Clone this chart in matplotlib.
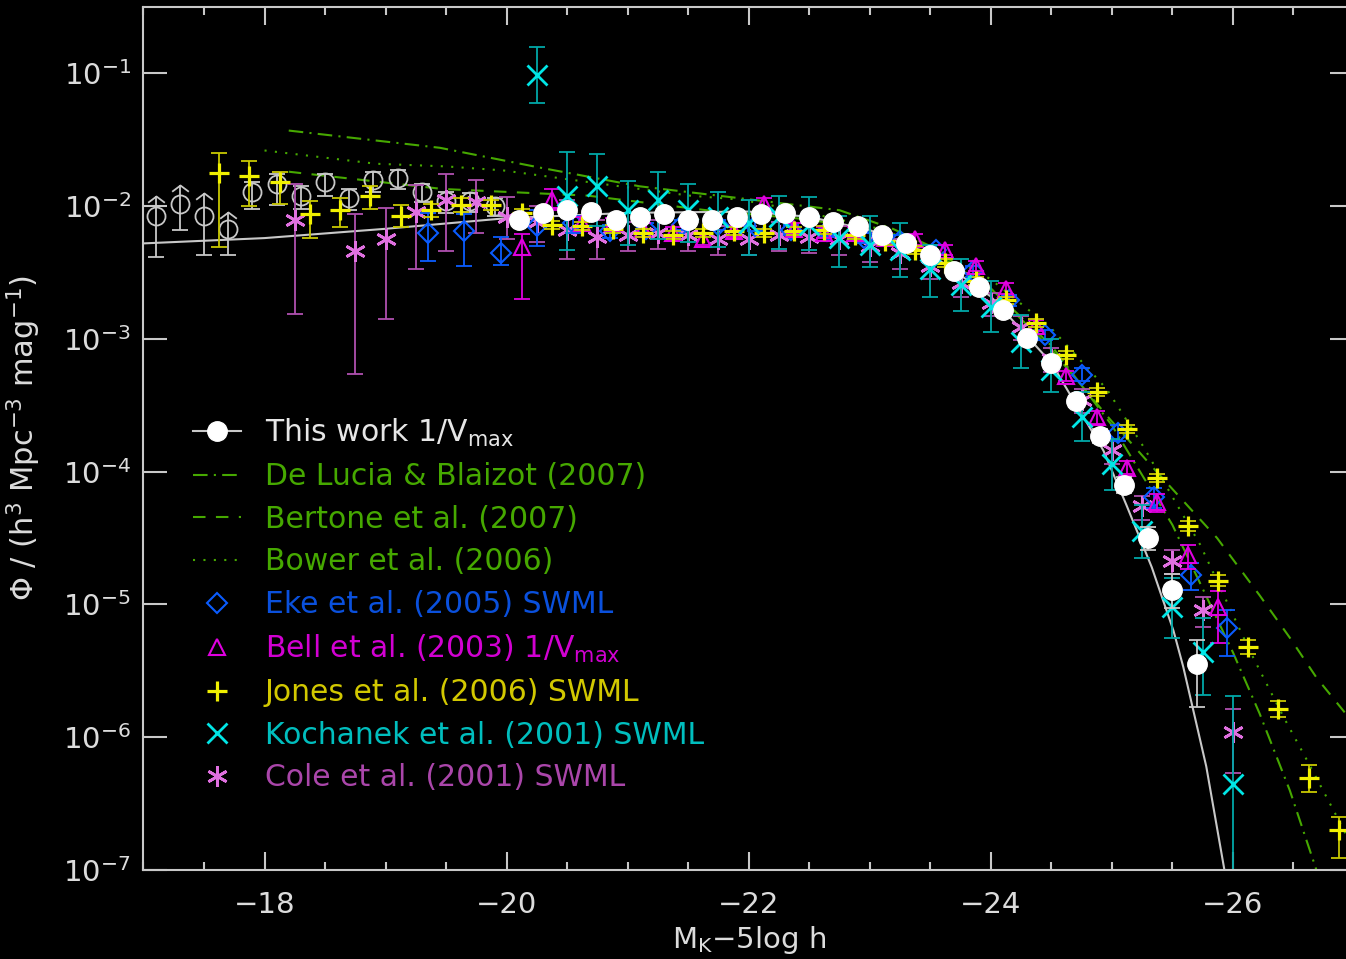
import numpy as np
import matplotlib
matplotlib.use('Agg')
import matplotlib.pyplot as plt
from matplotlib.lines import Line2D
from matplotlib.ticker import MultipleLocator, FixedLocator, NullLocator

plt.rcParams['font.family'] = ['DejaVu Sans']
plt.rcParams['mathtext.default'] = 'regular'

# ---- data (magnitudes and log10 phi) ----
# this work, 1/Vmax (filled)
this_M = [-20.1, -20.3, -20.5, -20.7, -20.9, -21.1, -21.3, -21.5, -21.7, -21.9,
          -22.1, -22.3, -22.5, -22.7, -22.9, -23.1, -23.3, -23.5, -23.7, -23.9,
          -24.1, -24.3, -24.5, -24.7, -24.9, -25.1, -25.3, -25.5, -25.7]
this_log = [-2.10, -2.05, -2.03, -2.04, -2.10, -2.08, -2.06, -2.10, -2.10, -2.08,
            -2.06, -2.05, -2.08, -2.12, -2.15, -2.22, -2.28, -2.37, -2.49, -2.61,
            -2.78, -2.99, -3.18, -3.47, -3.73, -4.10, -4.50, -4.89, -5.45]
this_up = [0.02, 0.02, 0.02, 0.02, 0.02, 0.02, 0.02, 0.02, 0.02, 0.02,
           0.02, 0.02, 0.02, 0.02, 0.02, 0.02, 0.02, 0.02, 0.02, 0.02,
           0.03, 0.03, 0.04, 0.04, 0.05, 0.06, 0.08, 0.12, 0.18]
this_dn = [0.02, 0.02, 0.02, 0.02, 0.02, 0.02, 0.02, 0.02, 0.02, 0.02,
           0.02, 0.02, 0.02, 0.02, 0.02, 0.02, 0.02, 0.02, 0.02, 0.02,
           0.03, 0.03, 0.04, 0.04, 0.05, 0.06, 0.09, 0.14, 0.32]

# this work, faint end (open circles)
faint_M = [-17.1, -17.3, -17.5, -17.7, -17.9, -18.1, -18.3, -18.5, -18.7, -18.9,
           -19.1, -19.3, -19.5, -19.7, -19.9]
faint_log = [-2.07, -1.98, -2.07, -2.17, -1.89, -1.83, -1.92, -1.82, -1.94, -1.80,
             -1.79, -1.89, -1.96, -1.96, -2.00]
faint_hi = [-1.92, -1.84, -1.90, -2.04, -1.82, -1.76, -1.85, -1.76, -1.87, -1.74,
            -1.73, -1.83, -1.89, -1.90, -1.94]
faint_lo = [-2.38, -2.18, -2.37, -2.37, -2.02, -1.99, -2.02, -1.92, -2.03, -1.89,
            -1.87, -1.97, -2.05, -2.04, -2.07]
faint_arrow = [True, True, True, True, False, False, False, False, False, False,
               False, False, False, False, False]

# Jones et al. (2006) SWML
jones_M = [-17.625, -17.875, -18.125, -18.375, -18.625, -18.875, -19.125, -19.375,
           -19.625, -19.875, -20.125, -20.375, -20.625, -20.875, -21.125, -21.375,
           -21.625, -21.875, -22.125, -22.375, -22.625, -22.875, -23.125, -23.375,
           -23.625, -23.875, -24.125, -24.375, -24.625, -24.875, -25.125, -25.375,
           -25.625, -25.875, -26.125, -26.375, -26.625, -26.875]
jones_log = [-1.75, -1.77, -1.82, -2.06, -2.03, -1.92, -2.07, -2.03, -1.99, -1.99,
             -2.05, -2.14, -2.15, -2.17, -2.20, -2.22, -2.20, -2.19, -2.20, -2.19,
             -2.18, -2.22, -2.26, -2.33, -2.43, -2.56, -2.71, -2.88, -3.12, -3.40,
             -3.68, -4.05, -4.41, -4.82, -5.32, -5.79, -6.31, -6.70]
jones_up = [0.15, 0.11, 0.08, 0.10, 0.09, 0.07, 0.08, 0.05, 0.05, 0.04,
            0.03, 0.03, 0.03, 0.03, 0.03, 0.03, 0.03, 0.03, 0.03, 0.03,
            0.03, 0.03, 0.03, 0.03, 0.03, 0.03, 0.03, 0.03, 0.03, 0.03,
            0.03, 0.03, 0.04, 0.04, 0.05, 0.06, 0.10, 0.10]
jones_dn = [0.56, 0.23, 0.16, 0.18, 0.13, 0.10, 0.09, 0.05, 0.05, 0.04,
            0.03, 0.03, 0.03, 0.03, 0.03, 0.03, 0.03, 0.03, 0.03, 0.03,
            0.03, 0.03, 0.03, 0.03, 0.03, 0.03, 0.03, 0.03, 0.03, 0.03,
            0.03, 0.03, 0.04, 0.04, 0.05, 0.06, 0.10, 0.21]

# Kochanek et al. (2001) SWML
koch_M = [-20.25, -20.5, -20.75, -21.0, -21.25, -21.5, -21.75, -22.0, -22.25, -22.5,
          -22.75, -23.0, -23.25, -23.5, -23.75, -24.0, -24.25, -24.5, -24.75, -25.0,
          -25.25, -25.5, -25.75, -26.0]
koch_log = [-1.01, -1.92, -1.85, -2.03, -1.95, -2.03, -2.08, -2.13, -2.08, -2.14,
            -2.24, -2.29, -2.33, -2.47, -2.59, -2.76, -3.02, -3.23, -3.59, -3.94,
            -4.45, -5.02, -5.36, -6.35]
koch_hi = [-0.80, -1.59, -1.61, -1.81, -1.74, -1.83, -1.89, -1.95, -1.92, -1.93,
           -2.07, -2.07, -2.13, -2.29, -2.40, -2.56, -2.82, -3.00, -3.40, -3.75,
           -4.25, -4.80, -5.10, -5.69]
koch_lo = [-1.22, -2.33, -2.15, -2.29, -2.25, -2.27, -2.31, -2.37, -2.32, -2.33,
           -2.46, -2.46, -2.53, -2.68, -2.79, -2.95, -3.22, -3.40, -3.77, -4.14,
           -4.65, -5.25, -5.68, -9.00]

# Eke et al. (2005) SWML
eke_M = [-19.35, -19.65, -19.95, -20.25, -20.55, -20.85, -21.15, -21.45, -21.75,
         -22.05, -22.35, -22.65, -22.95, -23.25, -23.55, -23.85, -24.15, -24.45,
         -24.75, -25.05, -25.35, -25.65, -25.95]
eke_log = [-2.20, -2.19, -2.35, -2.15, -2.13, -2.19, -2.17, -2.14, -2.14, -2.15,
           -2.18, -2.19, -2.24, -2.26, -2.33, -2.49, -2.71, -2.97, -3.27, -3.71,
           -4.19, -4.78, -5.18]
eke_up = [0.15, 0.13, 0.12, 0.12, 0.06, 0.05, 0.04, 0.04, 0.04, 0.04, 0.04, 0.04,
          0.04, 0.04, 0.04, 0.04, 0.04, 0.04, 0.05, 0.06, 0.07, 0.09, 0.14]
eke_dn = [0.21, 0.26, 0.09, 0.15, 0.07, 0.05, 0.04, 0.04, 0.04, 0.04, 0.04, 0.04,
          0.04, 0.04, 0.04, 0.04, 0.04, 0.04, 0.05, 0.06, 0.08, 0.11, 0.21]

# Bell et al. (2003) 1/Vmax
bell_M = [-20.125, -20.375, -20.625, -20.875, -21.125, -21.375, -21.625, -21.875,
          -22.125, -22.375, -22.625, -22.875, -23.125, -23.375, -23.625, -23.875,
          -24.125, -24.375, -24.625, -24.875, -25.125, -25.375, -25.625, -25.875]
bell_log = [-2.31, -1.95, -2.13, -2.13, -2.17, -2.20, -2.25, -2.19, -1.98, -2.17,
            -2.20, -2.20, -2.24, -2.25, -2.33, -2.45, -2.62, -2.90, -3.28, -3.59,
            -3.97, -4.23, -4.63, -5.02]
bell_up = [0.10, 0.08, 0.05, 0.04, 0.04, 0.04, 0.04, 0.04, 0.04, 0.04, 0.04, 0.04,
           0.04, 0.04, 0.04, 0.04, 0.04, 0.04, 0.04, 0.05, 0.05, 0.06, 0.08, 0.12]
bell_dn = [0.39, 0.08, 0.05, 0.04, 0.04, 0.04, 0.04, 0.04, 0.04, 0.04, 0.04, 0.04,
           0.04, 0.04, 0.04, 0.04, 0.04, 0.04, 0.04, 0.05, 0.05, 0.07, 0.10, 0.27]

# Cole et al. (2001) SWML
cole_M = [-18.25, -18.75, -19.0, -19.25, -19.5, -19.75, -20.0, -20.25, -20.5, -20.75,
          -21.0, -21.25, -21.5, -21.75, -22.0, -22.25, -22.5, -22.75, -23.0, -23.25,
          -23.5, -23.75, -24.0, -24.25, -24.5, -24.75, -25.0, -25.25, -25.5, -25.75,
          -26.0]
cole_log = [-2.10, -2.34, -2.25, -2.04, -1.95, -1.97, -2.08, -2.12, -2.18, -2.23,
            -2.22, -2.20, -2.22, -2.25, -2.25, -2.22, -2.23, -2.25, -2.30, -2.35,
            -2.45, -2.58, -2.73, -2.91, -3.15, -3.46, -3.84, -4.26, -4.67, -5.04,
            -5.96]
cole_up = [0.27, 0.28, 0.24, 0.20, 0.19, 0.17, 0.15, 0.12, 0.23, 0.13, 0.10, 0.10,
           0.10, 0.10, 0.10, 0.10, 0.10, 0.10, 0.10, 0.10, 0.08, 0.08, 0.08, 0.08,
           0.08, 0.08, 0.08, 0.08, 0.08, 0.10, 0.17]
cole_dn = [0.71, 0.92, 0.60, 0.43, 0.39, 0.23, 0.17, 0.15, 0.22, 0.17, 0.12, 0.12,
           0.12, 0.12, 0.12, 0.12, 0.12, 0.12, 0.12, 0.12, 0.10, 0.10, 0.10, 0.10,
           0.10, 0.10, 0.10, 0.10, 0.10, 0.13, 0.31]

# model / fit curves
fit_M = [-17.0, -18.0, -19.0, -20.0, -21.0, -22.0, -22.5, -23.0, -23.5, -24.0,
         -24.5, -24.93, -25.12, -25.33, -25.51, -25.59, -25.78, -25.93, -26.0]
fit_log = [-2.28, -2.24, -2.17, -2.09, -2.05, -2.04, -2.08, -2.18, -2.36, -2.68,
           -3.18, -3.84, -4.25, -4.72, -5.20, -5.47, -6.22, -7.00, -7.35]

delucia_M = [-18.2, -19.45, -20.28, -21.1, -21.93, -22.75, -23.19, -23.5, -24.0,
             -24.5, -25.0, -25.5, -26.0, -26.22, -26.47, -26.69, -26.8]
delucia_log = [-1.43, -1.56, -1.71, -1.85, -1.94, -2.03, -2.17, -2.30, -2.62,
               -3.05, -3.65, -4.40, -5.36, -5.82, -6.40, -7.00, -7.30]

bertone_M = [-18.2, -19.47, -20.67, -21.65, -22.5, -23.0, -23.5, -24.0, -24.5,
             -24.98, -25.39, -25.87, -26.22, -26.47, -26.69, -26.93, -27.0]
bertone_log = [-1.74, -1.87, -1.92, -2.03, -2.10, -2.18, -2.33, -2.62, -3.08,
               -3.60, -4.02, -4.50, -4.93, -5.25, -5.55, -5.82, -5.90]

bower_M = [-18.0, -18.92, -19.5, -19.97, -20.69, -21.51, -21.93, -22.34, -23.0,
           -23.5, -24.0, -24.5, -24.96, -25.26, -25.73, -26.14, -26.42, -26.64,
           -26.86, -27.0]
bower_log = [-1.58, -1.68, -1.70, -1.73, -1.82, -1.92, -1.95, -2.02, -2.15,
             -2.30, -2.55, -2.92, -3.38, -3.81, -4.55, -5.35, -5.85, -6.22,
             -6.60, -6.85]

labels = ['This work 1/V$_{max}$', 'De Lucia & Blaizot (2007)', 'Bertone et al. (2007)',
          'Bower et al. (2006)', 'Eke et al. (2005) SWML', 'Bell et al. (2003) 1/V$_{max}$',
          'Jones et al. (2006) SWML', 'Kochanek et al. (2001) SWML', 'Cole et al. (2001) SWML']

# ---- styling ----
fg = '#c8c8c8'
txt = '#dcdcdc'
green = '#46a800'
c_eke = '#0a5cff'
c_bell = '#e000e0'
c_jones = '#f0f000'
c_jones_e = '#c8c800'
c_koch = '#00e6e6'
c_koch_e = '#00a8a8'
c_cole = '#e070e0'
c_cole_e = '#b050b0'
text_colors = ['#e6e6e6', '#46a800', '#46a800', '#46a800', '#0a50dc',
               '#d200d2', '#d2c800', '#00bebe', '#aa46aa']

ls_dashdot = (0, (7, 3, 1, 3))
ls_dash = (0, (6, 5))
ls_dot = (0, (1, 4))
asterisk = (6, 2, 0)
chevron = [(-1.0, -0.75), (0.0, 0.0), (1.0, -0.75)]


def lin(v):
    return 10.0 ** np.asarray(v, dtype=float)


def yerr(logv, up, dn):
    logv = np.asarray(logv, dtype=float)
    y = 10.0 ** logv
    return y, [y - 10.0 ** (logv - np.asarray(dn)), 10.0 ** (logv + np.asarray(up)) - y]


fig = plt.figure(figsize=(13.46, 9.59), dpi=100, facecolor='black')
ax = fig.add_axes([0.1066, 0.0928, 0.8993, 0.8998])
ax.set_facecolor('black')
ax.set_yscale('log')

# model curves
ax.plot(delucia_M, lin(delucia_log), color=green, lw=1.5, ls=ls_dashdot)
ax.plot(bertone_M, lin(bertone_log), color=green, lw=1.5, ls=ls_dash)
ax.plot(bower_M, lin(bower_log), color=green, lw=1.5, ls=ls_dot)
ax.plot(fit_M, lin(fit_log), color=fg, lw=1.5)

ekw = dict(fmt='none', elinewidth=1.3, capsize=6, capthick=1.3)

# faint-end open circles
fy = lin(faint_log)
arrow = np.array(faint_arrow)
ax.vlines(faint_M, lin(faint_lo), lin(faint_hi), color=fg, lw=1.3)
ax.plot(faint_M, lin(faint_lo), ls='none', marker='_', ms=12, mew=1.3, color=fg)
ax.plot(np.array(faint_M)[~arrow], lin(faint_hi)[~arrow], ls='none', marker='_',
        ms=12, mew=1.3, color=fg)
ax.plot(np.array(faint_M)[arrow], lin(faint_hi)[arrow], ls='none', marker=chevron,
        ms=12, mew=1.3, mfc='none', mec=fg)
ax.plot(faint_M, fy, ls='none', marker='o', ms=13, mfc='none', mec=fg, mew=1.3)

# Cole
y, e = yerr(cole_log, cole_up, cole_dn)
ax.errorbar(cole_M, y, yerr=e, ecolor=c_cole_e, **ekw)
ax.plot(cole_M, y, ls='none', marker=asterisk, ms=15, mew=2, color=c_cole)

# Eke
y, e = yerr(eke_log, eke_up, eke_dn)
ax.errorbar(eke_M, y, yerr=e, ecolor=c_eke, **ekw)
ax.plot(eke_M, y, ls='none', marker='D', ms=10, mfc='none', mec=c_eke, mew=1.5)

# Bell
y, e = yerr(bell_log, bell_up, bell_dn)
ax.errorbar(bell_M, y, yerr=e, ecolor=c_bell, **ekw)
ax.plot(bell_M, y, ls='none', marker='^', ms=12, mfc='none', mec=c_bell, mew=1.5)

# Jones
y, e = yerr(jones_log, jones_up, jones_dn)
ax.errorbar(jones_M, y, yerr=e, ecolor=c_jones_e, **ekw)
ax.plot(jones_M, y, ls='none', marker='+', ms=15, mew=2.3, color=c_jones)

# Kochanek
ky = lin(koch_log)
ax.errorbar(koch_M, ky, yerr=[ky - lin(koch_lo), lin(koch_hi) - ky], ecolor=c_koch_e, **ekw)
ax.plot(koch_M, ky, ls='none', marker='x', ms=14, mew=2, color=c_koch)

# this work
y, e = yerr(this_log, this_up, this_dn)
ax.errorbar(this_M, y, yerr=e, ecolor=fg, **ekw)
ax.plot(this_M, y, ls='none', marker='o', ms=14, mfc='white', mec='white')

ax.set_xlim(-17, -27)
ax.set_ylim(1e-7, 10 ** -0.5)

# axes / ticks
for s in ax.spines.values():
    s.set_color(fg)
    s.set_linewidth(1.5)
ax.xaxis.set_major_locator(MultipleLocator(2))
ax.xaxis.set_minor_locator(MultipleLocator(0.5))
ax.yaxis.set_major_locator(FixedLocator(10.0 ** np.arange(-7, 0)))
ax.yaxis.set_minor_locator(NullLocator())
ax.tick_params(which='both', direction='in', top=True, right=True, colors=fg,
               labelcolor=txt, width=1.5)
ax.tick_params(axis='x', which='major', length=13, labelsize=21, pad=15)
ax.tick_params(axis='x', which='minor', length=6)
ax.tick_params(axis='y', which='major', length=17, labelsize=21, pad=9)

ax.set_xlabel('M$_K$\u22125log h', fontsize=21, color=txt, labelpad=4)
ax.set_ylabel('$\\Phi$ / (h$^3$ Mpc$^{-3}$ mag$^{-1}$)', fontsize=22, color=txt,
              labelpad=14)

# legend
handles = [
    Line2D([], [], color=fg, lw=1.5, marker='o', ms=14, mfc='white', mec='white'),
    Line2D([], [], color=green, lw=1.5, ls=ls_dashdot),
    Line2D([], [], color=green, lw=1.5, ls=ls_dash),
    Line2D([], [], color=green, lw=1.5, ls=ls_dot),
    Line2D([], [], ls='none', marker='D', ms=10, mfc='none', mec=c_eke, mew=1.5),
    Line2D([], [], ls='none', marker='^', ms=12, mfc='none', mec=c_bell, mew=1.5),
    Line2D([], [], ls='none', marker='+', ms=15, mew=2.3, color=c_jones),
    Line2D([], [], ls='none', marker='x', ms=14, mew=2, color=c_koch),
    Line2D([], [], ls='none', marker=asterisk, ms=15, mew=2, color=c_cole),
]
leg = ax.legend(handles, labels, loc='upper left', bbox_to_anchor=(0.041, 0.5255),
                frameon=False, fontsize=21.5, handlelength=1.6, handletextpad=0.8,
                labelspacing=0.455, borderpad=0, borderaxespad=0)
for t, c in zip(leg.get_texts(), text_colors):
    t.set_color(c)

fig.savefig('out.png', dpi=100, facecolor='black')
